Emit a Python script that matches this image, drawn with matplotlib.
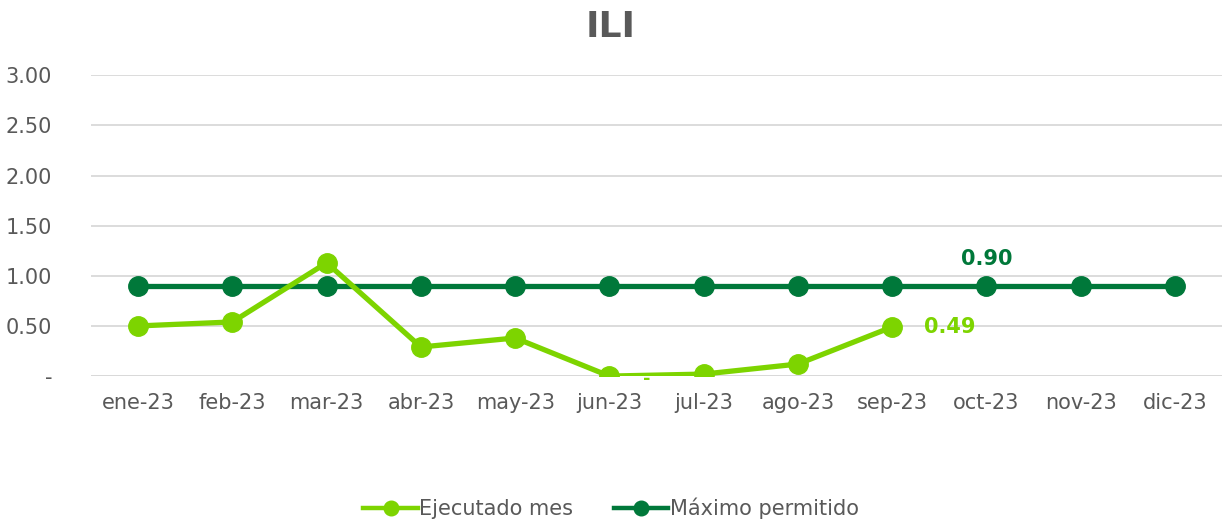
import numpy as np
import matplotlib.pyplot as plt

meses = ["ene-23","feb-23","mar-23","abr-23","may-23","jun-23","jul-23","ago-23","sep-23","oct-23","nov-23","dic-23"]
ejecutado = [0.50, 0.54, 1.13, 0.29, 0.38, 0.0, 0.02, 0.12, 0.49]
maximo = [0.90]*12

verde_claro = "#7DD400"
verde_osc = "#00783A"
gris = "#595959"

fig = plt.figure(figsize=(12.22,5.26), dpi=100)
ax = fig.add_axes([0.0745, 0.285, 0.9255, 0.572])

x = np.arange(len(meses))
ax.plot(x, maximo, "-o", color=verde_osc, linewidth=3.8, markersize=14, label="Máximo permitido", zorder=3)
ax.plot(x[:len(ejecutado)], ejecutado, "-o", color=verde_claro, linewidth=3.8, markersize=14, label="Ejecutado mes", zorder=4)

# etiquetas de datos
ax.annotate("0.90", (x[9], maximo[9]), xytext=(0, 12), textcoords="offset points",
            ha="center", va="bottom", color=verde_osc, fontsize=15, fontweight="bold")
ax.annotate("0.49", (x[8], ejecutado[8]), xytext=(23, 0), textcoords="offset points",
            ha="left", va="center", color=verde_claro, fontsize=15, fontweight="bold")
ax.annotate("-", (x[5], ejecutado[5]), xytext=(24, -2), textcoords="offset points",
            ha="left", va="center", color=verde_claro, fontsize=13, fontweight="bold")

ax.set_xlim(-0.5, 11.5)
ax.set_ylim(0, 3.0)
ax.set_yticks(np.arange(0, 3.01, 0.5))
ax.set_yticklabels(["-" if v == 0 else "%.2f" % v for v in np.arange(0, 3.01, 0.5)])
ax.set_xticks(x)
ax.set_xticklabels(meses)
ax.tick_params(axis="both", length=0, labelsize=15, labelcolor=gris)
ax.tick_params(axis="y", pad=28)
ax.tick_params(axis="x", pad=12)
for s in ax.spines.values():
    s.set_visible(False)
ax.grid(axis="y", color="#D9D9D9", linewidth=1.3)
ax.set_axisbelow(True)
ax.axhline(0, color="#D9D9D9", linewidth=1.3, zorder=1)

fig.text(0.5, 0.948, "ILI", ha="center", va="center", fontsize=26, fontweight="bold", color=gris)

h, l = ax.get_legend_handles_labels()
leg = fig.legend(h[::-1], l[::-1], loc="center", bbox_to_anchor=(0.5, 0.034), ncol=2, frameon=False,
                 fontsize=15, labelcolor=gris, handlelength=2.6, handletextpad=0.05, columnspacing=2.0,
                 markerscale=0.75)
for ln in leg.get_lines():
    ln.set_linewidth(3.2)

fig.savefig("out.png", dpi=100)
